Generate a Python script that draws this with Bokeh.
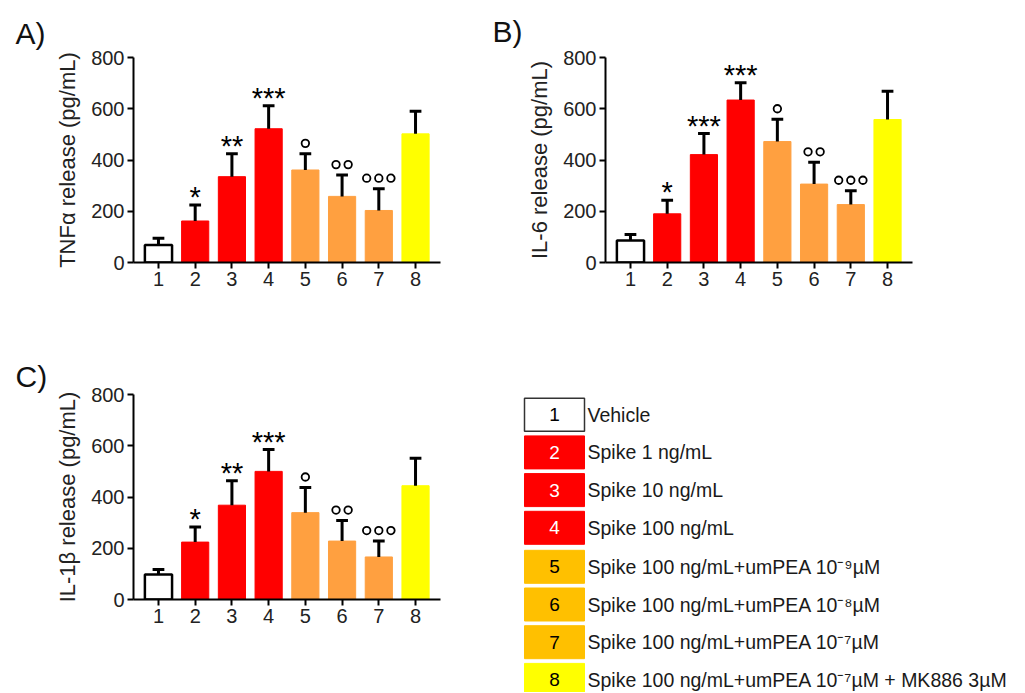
from bokeh.plotting import figure
from bokeh.layouts import row, column
from bokeh.models import Range1d, ColumnDataSource, FixedTicker
from bokeh.embed import file_html
from bokeh.resources import INLINE
from bokeh.core.properties import value

# ---------------- data ----------------
groups = [1, 2, 3, 4, 5, 6, 7, 8]
bar_colors = ["#FFFFFF", "#FF0000", "#FF0000", "#FF0000", "#FFA040", "#FFA040", "#FFA040", "#FFFF00"]

tnf_mean = [68, 162, 335, 522, 361, 258, 203, 502]
tnf_sem = [27, 62, 89, 90, 63, 83, 85, 88]
tnf_sig = ["", "*", "**", "***", "°", "°°", "°°°", ""]

il6_mean = [86, 190, 421, 634, 472, 306, 226, 558]
il6_sem = [23, 53, 82, 67, 87, 85, 54, 110]
il6_sig = ["", "*", "***", "***", "°", "°°", "°°°", ""]

il1b_mean = [98, 224, 368, 500, 339, 228, 166, 444]
il1b_sem = [19, 59, 95, 85, 98, 80, 62, 107]
il1b_sig = ["", "*", "**", "***", "°", "°°", "°°°", ""]

y_ticks = [0, 200, 400, 600, 800]

legend_nums = ["1", "2", "3", "4", "5", "6", "7", "8"]
legend_labels = [
    "Vehicle",
    "Spike 1 ng/mL",
    "Spike 10 ng/mL",
    "Spike 100 ng/mL",
    "Spike 100 ng/mL+umPEA 10\u207b\u2079\u00b5M",
    "Spike 100 ng/mL+umPEA 10\u207b\u2078\u00b5M",
    "Spike 100 ng/mL+umPEA 10\u207b\u2077\u00b5M",
    "Spike 100 ng/mL+umPEA 10\u207b\u2077\u00b5M + MK886 3\u00b5M",
]
legend_colors = ["#FFFFFF", "#FF0000", "#FF0000", "#FF0000", "#FFC000", "#FFC000", "#FFC000", "#FFFF00"]
legend_num_colors = ["#000000", "#FFFFFF", "#FFFFFF", "#FFFFFF", "#000000", "#000000", "#000000", "#000000"]

FONT = "Liberation Sans"


def panel(title, ylabel, means, sems, sigs, width, height, left_border, top_border,
          title_offset, title_standoff):
    p = figure(width=width, height=height, x_range=Range1d(0.32, 8.68), y_range=Range1d(0, 800),
               output_backend="svg", toolbar_location=None, title=title,
               min_border_left=left_border, min_border_right=width - left_border - 307,
               min_border_top=top_border, min_border_bottom=height - top_border - 205)
    p.frame_align = False
    p.outline_line_color = None
    p.grid.visible = False
    p.background_fill_color = "white"
    p.border_fill_color = "white"

    p.title.text_font = FONT
    p.title.text_font_size = "30px"
    p.title.text_font_style = "normal"
    p.title.text_color = "#111111"
    p.title.align = "left"
    p.title.offset = title_offset
    p.title.standoff = title_standoff
    p.title.text_line_height = 1.0

    for ax in (p.xaxis[0], p.yaxis[0]):
        ax.axis_line_width = 2
        ax.axis_line_color = "black"
        ax.major_tick_line_width = 2
        ax.major_tick_line_color = "black"
        ax.major_tick_out = 6
        ax.major_tick_in = 0
        ax.minor_tick_line_color = None
        ax.major_label_text_font = FONT
        ax.major_label_text_font_size = "20px"
        ax.major_label_text_color = "#222222"
        ax.major_label_standoff = 3
    p.xaxis.ticker = FixedTicker(ticks=groups)
    p.yaxis.ticker = FixedTicker(ticks=y_ticks)
    p.yaxis.axis_label = ylabel
    p.yaxis.axis_label_text_font = FONT
    p.yaxis.axis_label_text_font_size = "22px"
    p.yaxis.axis_label_text_font_style = "normal"
    p.yaxis.axis_label_text_color = "#222222"
    p.yaxis.axis_label_standoff = 8

    tops = [m + s for m, s in zip(means, sems)]
    src = ColumnDataSource(dict(
        x=groups, mean=means, top=tops, fill=bar_colors,
        line=["black" if c == "#FFFFFF" else c for c in bar_colors],
        lw=[2.5 if c == "#FFFFFF" else 1 for c in bar_colors],
        cl=[g - 0.16 for g in groups], cr=[g + 0.16 for g in groups],
    ))
    p.vbar(x="x", top="mean", width=0.74, fill_color="fill", line_color="line",
           line_width="lw", source=src)
    p.segment(x0="x", y0="mean", x1="x", y1="top", line_width=3, line_color="black", source=src)
    p.segment(x0="cl", y0="top", x1="cr", y1="top", line_width=3, line_color="black", source=src)

    sx, sy, st = [], [], []
    cx, cy = [], []
    for g, t, s in zip(groups, tops, sigs):
        if "*" in s:
            sx.append(g); sy.append(t); st.append(s)
        elif "°" in s:
            n = len(s)
            for k in range(n):
                cx.append(g + (k - (n - 1) / 2) * 0.33)
                cy.append(t + 41)
    p.text(x=sx, y=sy, text=st, text_font=value(FONT), text_font_size="29px",
           text_align="center", text_baseline="alphabetic", y_offset=-8, text_color="black")
    p.scatter(x=cx, y=cy, marker="circle", size=7.5, fill_color="white",
              line_color="black", line_width=1.8)
    return p


pA = panel("A)", "TNF\u03b1 release (pg/mL)", tnf_mean, tnf_sem, tnf_sig, 480, 302, 133, 57, -118, 16)
pB = panel("B)", "IL-6 release (pg/mL)", il6_mean, il6_sem, il6_sig, 537, 302, 125, 57, -113, 19)
pC = panel("C)", "IL-1\u03b2 release (pg/mL)", il1b_mean, il1b_sem, il1b_sig, 480, 336, 133, 92, -118, 3)

# ---------------- legend panel ----------------
LW, LH = 535, 390
pL = figure(width=LW, height=LH, x_range=Range1d(0, LW), y_range=Range1d(LH, 0),
            output_backend="svg", toolbar_location=None, x_axis_type=None, y_axis_type=None,
            min_border=0)
pL.frame_align = False
pL.outline_line_color = None
pL.grid.visible = False

centers = [112.2 + i * 37.7 + (1.3 if i >= 4 else 0) for i in range(len(legend_nums))]
lsrc = ColumnDataSource(dict(
    y=centers, fill=legend_colors, num=legend_nums, numc=legend_num_colors, lab=legend_labels,
    line=["#333333" if c == "#FFFFFF" else c for c in legend_colors],
    lw=[1.5 if c == "#FFFFFF" else 1 for c in legend_colors],
))
pL.rect(x=74, y="y", width=60, height=33, fill_color="fill", line_color="line", line_width="lw", source=lsrc)
pL.text(x=74, y="y", text="num", text_color="numc", text_font=value(FONT), text_font_size="19px",
        text_align="center", text_baseline="middle", source=lsrc)
pL.text(x=107, y="y", text="lab", text_color="#1a1a1a", text_font=value(FONT), text_font_size="19.5px",
        text_align="left", text_baseline="middle", source=lsrc)

layout = column(row(pA, pB, spacing=0), row(pC, pL, spacing=0), spacing=0)

open("out.html", "w").write(file_html(layout, INLINE))
